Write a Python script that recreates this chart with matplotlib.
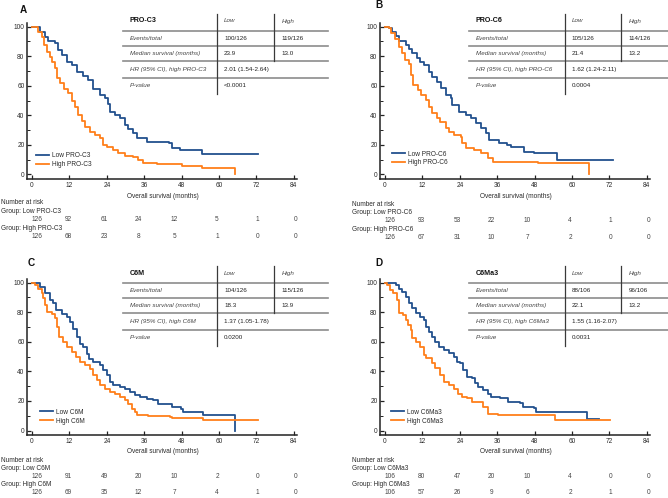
import matplotlib
matplotlib.use('Agg')
import matplotlib.pyplot as plt
from matplotlib.lines import Line2D
from matplotlib.ticker import MultipleLocator

plt.rcParams['font.family'] = ['Liberation Sans', 'DejaVu Sans']

# ---------------- data ----------------
time_ticks = [0, 12, 24, 36, 48, 60, 72, 84]

# Panel A: PRO-C3
a_t_low = [0, 2.6, 4.2, 5.2, 7.4, 8.4, 9.5, 11.1, 12.7, 14.3, 16.5, 18.0, 19.7, 21.8, 23.4, 24.5,
           25.0, 26.6, 28.2, 29.8, 30.9, 32.5, 33.6, 36.8, 44.0, 44.8, 47.5, 54.7, 72.6]
a_s_low = [100, 96.7, 93, 90.5, 88.7, 84, 81, 76, 74, 69.6, 66.6, 64, 58, 53.8, 51.5, 48,
           42.5, 40, 38, 33.5, 31, 28, 24.5, 22, 21, 17.7, 16.6, 14, 14]
a_t_high = [0, 1.2, 2.0, 3.1, 4.0, 4.7, 5.8, 6.3, 7.4, 8.1, 9.0, 10.3, 11.6, 12.7, 13.8, 14.9, 16.0,
            17.0, 18.6, 20.2, 21.8, 22.9, 24.0, 26.0, 27.7, 29.8, 32.5, 34.0, 35.7, 40.0, 48.0, 54.4, 65.0]
a_s_high = [100, 100, 96.5, 93, 87.6, 83, 79.7, 76, 72, 65, 61.7, 58, 55, 50, 46, 40, 36,
            32, 29, 26.7, 24.5, 20, 18.8, 16.6, 14.3, 12.7, 12, 9.8, 8, 6.9, 5.7, 4.2, 0]
a_risk_low = [126, 92, 61, 24, 12, 5, 1, 0]
a_risk_high = [126, 68, 23, 8, 5, 1, 0, 0]
a_table = ['100/126', '119/126', '23.9', '13.0', '2.01 (1.54-2.64)', '<0.0001']

# Panel B: PRO-C6
b_t_low = [0, 1.3, 2.4, 3.4, 4.5, 6.6, 7.7, 8.8, 10.4, 11.2, 12.5, 14.1, 15.2, 16.8, 17.9, 19.5, 21.1,
           21.5, 23.8, 25.9, 27.5, 29.1, 30.7, 32.4, 33.4, 36.6, 39.3, 40.3, 44.6, 47.8, 55.1, 73.0]
b_s_low = [100, 99, 96.5, 94, 90, 87.6, 85, 82, 78.6, 76, 74, 69.6, 66, 62.8, 58.3, 53.8, 51.5,
           47, 42.5, 40.2, 38, 34.6, 31.2, 27.9, 23.3, 21, 20, 18.8, 15.5, 14.3, 9.8, 9.8]
b_t_high = [0, 1.3, 2.0, 3.1, 4.5, 5.6, 6.3, 7.7, 8.5, 9.1, 10.6, 11.7, 13.0, 14.1, 15.2, 16.6, 17.7,
            19.5, 20.5, 22.2, 24.3, 24.8, 25.9, 28.6, 30.7, 32.9, 34.5, 49.2, 65.5]
b_s_high = [100, 99, 95.5, 92, 86.5, 82, 77.5, 75, 67, 60.5, 57, 53.8, 50.4, 46, 41.4, 38, 35.8,
            31.2, 29, 26.7, 25.6, 21, 17.7, 16.6, 14.3, 11, 8.7, 7.5, 0]
b_risk_low = [126, 93, 53, 22, 10, 4, 1, 0]
b_risk_high = [126, 67, 31, 10, 7, 2, 0, 0]
b_table = ['105/126', '114/126', '21.4', '13.2', '1.62 (1.24-2.11)', '0.0004']

# Panel C: C6M
c_t_low = [0, 1.4, 2.5, 4.1, 5.7, 6.8, 7.8, 9.5, 11.1, 12.2, 13.3, 14.3, 15.4, 16.5, 17.5, 18.4, 19.7,
           21.8, 22.9, 24.0, 25.0, 26.1, 28.2, 29.8, 31.5, 33.1, 34.7, 36.8, 38.9, 40.5, 44.8, 47.9,
           48.3, 54.8, 65.2]
c_s_low = [100, 99.5, 97, 92.8, 88.2, 86, 81.4, 79, 77, 73.5, 69, 63.3, 58.8, 56.6, 52, 48.6, 46.4,
           44, 40.7, 37.3, 32.8, 30.5, 29.4, 28.3, 26, 23.8, 22.6, 21, 20.4, 18.1, 15.8, 14.7,
           12.4, 10.2, 0]
c_t_high = [0, 1.0, 2.0, 3.1, 3.6, 4.2, 4.7, 6.3, 7.4, 7.9, 8.8, 10.0, 11.1, 12.7, 14.0, 15.4, 17.0,
            18.6, 19.7, 20.8, 21.8, 23.4, 25.0, 26.6, 28.2, 29.8, 30.9, 32.0, 33.1, 33.6, 37.3, 44.2,
            44.8, 55.0, 72.6]
c_s_high = [100, 98.4, 96, 92.8, 89.4, 84.8, 80.3, 79, 75.8, 70, 63.3, 60, 56.6, 53.2, 49.8, 46.4, 44,
            41.9, 37.3, 34, 30.5, 28.3, 26, 24.9, 22.6, 20.4, 17.6, 14.7, 12.4, 10.2, 9.5, 9,
            8.4, 6.8, 6.8]
c_risk_low = [126, 91, 49, 20, 10, 2, 0, 0]
c_risk_high = [126, 69, 35, 12, 7, 4, 1, 0]
c_table = ['104/126', '115/126', '18.3', '13.9', '1.37 (1.05-1.78)', '0.0200']

# Panel D: C6Ma3
d_t_low = [0, 2.3, 3.4, 4.5, 5.5, 6.6, 7.6, 8.7, 10.1, 11.1, 12.4, 13.3, 14.0, 15.1, 16.1, 17.2, 18.8,
           20.4, 22.0, 23.0, 24.1, 25.1, 26.2, 27.8, 28.8, 29.9, 31.5, 33.1, 34.1, 36.8, 39.4, 43.2,
           44.2, 47.9, 48.5, 64.9, 68.6]
d_s_low = [100, 100, 98.4, 96, 93.9, 90.5, 86, 82.6, 79.2, 77, 74.7, 70.2, 66.8, 63.4, 60, 56.7, 54.4,
           52.1, 49.9, 46.5, 45.4, 40.9, 36.3, 35.2, 31.8, 29.6, 27.3, 25, 22.8, 21.7, 19.4, 18.3,
           16, 14.9, 12.6, 8.1, 8.1]
d_t_high = [0, 0.7, 1.6, 2.7, 3.7, 4.5, 5.8, 6.6, 7.3, 8.2, 8.7, 10.1, 11.3, 12.4, 13.2, 15.1, 16.1,
            17.5, 18.8, 20.4, 22.0, 23.5, 24.6, 26.2, 27.8, 31.5, 33.1, 36.3, 54.6, 72.3]
d_s_high = [100, 98.4, 95, 92.8, 88.3, 79.2, 78.1, 74.7, 71.3, 68, 62.3, 60, 56.7, 51, 48.8, 45.4, 42,
            37.5, 33, 30.7, 28.4, 25, 22.8, 21.7, 19.4, 16, 11.5, 10.4, 7.4, 7.4]
d_risk_low = [106, 80, 47, 20, 10, 4, 0, 0]
d_risk_high = [106, 57, 26, 9, 6, 2, 1, 0]
d_table = ['88/106', '96/106', '22.1', '13.2', '1.55 (1.16-2.07)', '0.0031']

markers = ['PRO-C3', 'PRO-C6', 'C6M', 'C6Ma3']
letters = ['A', 'B', 'C', 'D']

# ---------------- layout ----------------
W, H = 668, 498
fig = plt.figure(figsize=(W / 100, H / 100), dpi=100)


def fx(x):
    return x / W


def fy(y):
    return 1 - y / H


BLUE = '#22508e'
ORANGE = '#ff7f1a'
TXT = '#2a2a2a'
FS = 4.7

PXPM = 3.117
PXPP = 1.478
XLIM = (-1.45, 85.0)
YLIM = (-3.3, 102.4)

layouts = [
    dict(x0=32, y0=174.5, tl=123, v1=217, v2=274.3, tr=328, tdy=0, leg=(36, 159.9),
         let=(20, 9.7), risk_y=[203, 211.4, 219.8, 228.2, 236.6], xl_y=196.7, rx=0.7),
    dict(x0=385, y0=174.5, tl=469, v1=564.7, v2=621.3, tr=668, tdy=0, leg=(392.3, 158.5),
         let=(375.7, 5.5), risk_y=[204, 212.4, 220.8, 229.2, 237.6], xl_y=196.7, rx=352.3),
    dict(x0=32, y0=430.5, tl=123, v1=217, v2=274.3, tr=328, tdy=252.3, leg=(40, 416.6),
         let=(28, 263), risk_y=[460, 468.2, 476.4, 484.6, 492.8], xl_y=451, rx=0.7),
    dict(x0=385, y0=430.5, tl=469, v1=564.7, v2=621.3, tr=668, tdy=252.3, leg=(391.3, 416.7),
         let=(375.7, 263.3), risk_y=[460, 468.2, 476.4, 484.6, 492.8], xl_y=451, rx=352.3),
]

curves = [
    (a_t_low, a_s_low, a_t_high, a_s_high, a_risk_low, a_risk_high, a_table),
    (b_t_low, b_s_low, b_t_high, b_s_high, b_risk_low, b_risk_high, b_table),
    (c_t_low, c_s_low, c_t_high, c_s_high, c_risk_low, c_risk_high, c_table),
    (d_t_low, d_s_low, d_t_high, d_s_high, d_risk_low, d_risk_high, d_table),
]

risk_offsets = [4.5, 36, 72, 106.5, 142.5, 185, 225.5, 263.5]

for lay, cv, name, letter in zip(layouts, curves, markers, letters):
    tl_, sl_, th_, sh_, rl, rh, tab = cv
    x0, y0 = lay['x0'], lay['y0']
    left = x0 + XLIM[0] * PXPM
    right = x0 + XLIM[1] * PXPM
    top = y0 - YLIM[1] * PXPP
    bottom = y0 - YLIM[0] * PXPP
    ax = fig.add_axes([fx(left), fy(bottom), (right - left) / W, (bottom - top) / H])
    ax.step(tl_, sl_, where='post', color=BLUE, lw=1.3, label=f'Low {name}')
    ax.step(th_, sh_, where='post', color=ORANGE, lw=1.3, label=f'High {name}')
    ax.set_xlim(*XLIM)
    ax.set_ylim(*YLIM)
    ax.set_xticks(time_ticks)
    ax.set_yticks([0, 20, 40, 60, 80, 100])
    ax.yaxis.set_minor_locator(MultipleLocator(10))
    for s in ['top', 'right']:
        ax.spines[s].set_visible(False)
    for s in ['left', 'bottom']:
        ax.spines[s].set_linewidth(1.1)
        ax.spines[s].set_color('#222222')
    ax.tick_params(axis='both', which='major', direction='in', length=3.0, width=0.9,
                   color='#222222', labelsize=FS, labelcolor=TXT)
    ax.tick_params(axis='y', which='minor', direction='in', length=1.8, width=0.7, color='#222222')
    ax.tick_params(axis='y', which='major', pad=2.2)
    ax.tick_params(axis='x', which='major', pad=1.6)
    ax.patch.set_alpha(0)

    # legend
    lx, ly = lay['leg']
    ax.legend(loc='center left', bbox_to_anchor=(fx(lx), fy(ly)), bbox_transform=fig.transFigure,
              frameon=False, fontsize=FS, handlelength=2.0, handletextpad=0.4,
              borderpad=0, borderaxespad=0, labelspacing=0.3, labelcolor=TXT)

    # x label
    fig.text(fx(x0 + 42 * PXPM), fy(lay['xl_y']), 'Overall survival (months)', fontsize=FS,
             color=TXT, ha='center', va='center')

    # panel letter
    lx, ly = lay['let']
    fig.text(fx(lx), fy(ly), letter, fontsize=7.2, fontweight='bold', ha='left', va='center',
             color='#111111')

    # number at risk
    ry = lay['risk_y']
    rx = lay['rx']
    fig.text(fx(rx), fy(ry[0]), 'Number at risk', fontsize=FS, color=TXT, ha='left', va='center')
    fig.text(fx(rx), fy(ry[1]), f'Group: Low {name}', fontsize=FS, color=TXT, ha='left', va='center')
    fig.text(fx(rx), fy(ry[3]), f'Group: High {name}', fontsize=FS, color=TXT, ha='left', va='center')
    for off, vl, vh in zip(risk_offsets, rl, rh):
        fig.text(fx(x0 + off), fy(ry[2]), str(vl), fontsize=FS, color='#444444', ha='center', va='center')
        fig.text(fx(x0 + off), fy(ry[4]), str(vh), fontsize=FS, color='#444444', ha='center', va='center')

    # summary table
    dy = lay['tdy']
    tl, v1, v2, tr = lay['tl'], lay['v1'], lay['v2'], lay['tr']
    for yl in [30.7, 46, 61, 77.7]:
        fig.add_artist(Line2D([fx(tl), fx(tr)], [fy(yl + dy), fy(yl + dy)], color='#8c8c8c', lw=1.2))
    fig.add_artist(Line2D([fx(v1), fx(v1)], [fy(14 + dy), fy(94 + dy)], color='#3a3a3a', lw=0.9))
    fig.add_artist(Line2D([fx(v2), fx(v2)], [fy(14 + dy), fy(61 + dy)], color='#3a3a3a', lw=0.9))
    rows_y = [21, 38.3, 53.5, 69.3, 85.5]
    cx0, cx1, cx2 = tl + 6.5, v1 + 7, v2 + 7.5
    labels = [f'Events/total', 'Median survival (months)', f'HR (95% CI), high {name}', 'P-value']
    fig.text(fx(cx0), fy(rows_y[0] + dy), name, fontsize=5.1, fontweight='bold', color='#111111',
             ha='left', va='center')
    fig.text(fx(cx1), fy(rows_y[0] + dy), 'Low', fontsize=4.5, style='italic', color='#444444',
             ha='left', va='center')
    fig.text(fx(cx2), fy(rows_y[0] + dy), 'High', fontsize=4.5, style='italic', color='#444444',
             ha='left', va='center')
    for i, lab in enumerate(labels):
        fig.text(fx(cx0), fy(rows_y[i + 1] + dy), lab, fontsize=4.5, style='italic', color='#444444',
                 ha='left', va='center')
    vals = [(tab[0], tab[1]), (tab[2], tab[3]), (tab[4], None), (tab[5], None)]
    for i, (va_, vb_) in enumerate(vals):
        fig.text(fx(cx1), fy(rows_y[i + 1] + dy), va_, fontsize=4.5, color='#222222',
                 ha='left', va='center')
        if vb_ is not None:
            fig.text(fx(cx2), fy(rows_y[i + 1] + dy), vb_, fontsize=4.5, color='#222222',
                     ha='left', va='center')

fig.savefig('out.png', dpi=100, facecolor='white')
